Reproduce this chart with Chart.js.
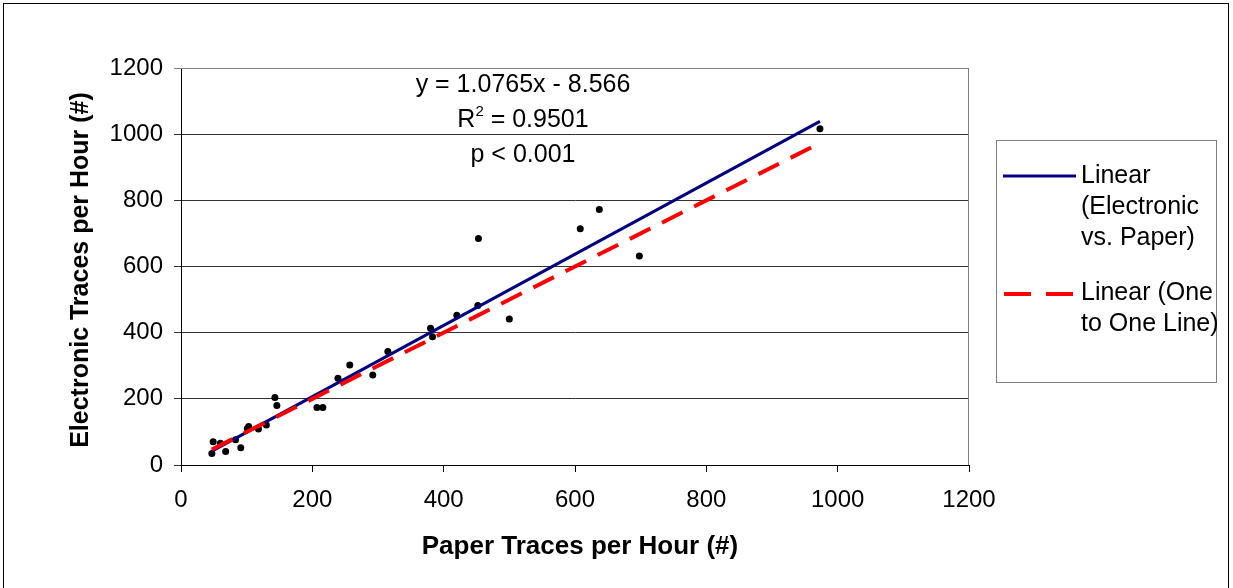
<!DOCTYPE html>
<html>
<head>
<meta charset="utf-8">
<script src="https://cdn.jsdelivr.net/npm/chart.js@4/dist/chart.umd.min.js"></script>
<style>
  html, body { margin: 0; padding: 0; background: #fff; }
  #wrap { width: 1233px; height: 588px; }
</style>
</head>
<body>
<div id="wrap"><canvas id="chart" width="1233" height="588"></canvas></div>
<script>
// values
const paperTraces = [47, 49, 60, 68, 83, 91, 101, 103, 118, 130, 143, 146, 207, 216, 239, 257, 292, 315,
  380, 383, 420, 452, 453, 500, 608, 637, 698, 973];
const electronicTraces = [35, 70, 66, 41, 76, 52, 110, 116, 109, 121, 204, 180, 174, 174, 262, 302, 272, 343,
  413, 388, 453, 482, 685, 441, 714, 772, 632, 1016];

// trend line as printed on the chart
const slope = 1.0765;
const intercept = -8.566;
const eqLines = ['y = 1.0765x - 8.566', 'R2 = 0.9501', 'p < 0.001'];

const axisTicks = [0, 200, 400, 600, 800, 1000, 1200];
const xTitle = 'Paper Traces per Hour (#)';
const yTitle = 'Electronic Traces per Hour (#)';

const FONT = '"Liberation Sans", Arial, sans-serif';

const xMin = Math.min(...paperTraces);
const xMax = Math.max(...paperTraces);
const fitLine = [xMin, xMax].map(x => ({ x: x, y: slope * x + intercept }));
const oneToOne = [xMin, xMax].map(x => ({ x: x, y: x }));
const points = paperTraces.map((x, i) => ({ x: x, y: electronicTraces[i] }));

const extras = {
  id: 'extras',
  beforeDatasetsDraw(chart) {
    const { ctx, chartArea: a } = chart;
    ctx.save();
    ctx.strokeStyle = '#808080';
    ctx.lineWidth = 1;
    ctx.beginPath();
    ctx.moveTo(a.left, a.top + 0.5);
    ctx.lineTo(a.right - 0.5, a.top + 0.5);
    ctx.lineTo(a.right - 0.5, a.bottom);
    ctx.stroke();
    ctx.restore();
  },
  afterDraw(chart) {
    const { ctx } = chart;
    ctx.save();
    // outer frame
    ctx.strokeStyle = '#000';
    ctx.lineWidth = 1;
    ctx.strokeRect(3.5, 3.5, 1225, 620);

    // axis titles
    ctx.fillStyle = '#000';
    ctx.textAlign = 'center';
    ctx.textBaseline = 'middle';
    ctx.font = 'bold 26px ' + FONT;
    ctx.fillText(xTitle, 580, 547);
    ctx.save();
    ctx.font = 'bold 25px ' + FONT;
    ctx.translate(81, 270);
    ctx.rotate(-Math.PI / 2);
    ctx.fillText(yTitle, 0, 0);
    ctx.restore();

    // equation block
    ctx.font = '25px ' + FONT;
    const cx = 523;
    ctx.fillText(eqLines[0], cx, 85);
    // R² with superscript
    const r = eqLines[1].slice(2);
    const wR = ctx.measureText('R').width;
    const wRest = ctx.measureText(r).width;
    ctx.font = '15px ' + FONT;
    const wSup = ctx.measureText('2').width;
    let x0 = cx - (wR + wSup + wRest) / 2;
    ctx.textAlign = 'left';
    ctx.font = '25px ' + FONT;
    ctx.fillText('R', x0, 120);
    ctx.font = '15px ' + FONT;
    ctx.fillText('2', x0 + wR, 112);
    ctx.font = '25px ' + FONT;
    ctx.fillText(r, x0 + wR + wSup, 120);
    ctx.textAlign = 'center';
    ctx.fillText(eqLines[2], cx, 155);

    // legend
    ctx.strokeStyle = '#808080';
    ctx.lineWidth = 1;
    ctx.strokeRect(996.5, 140.5, 220, 242);
    ctx.lineWidth = 3;
    ctx.strokeStyle = '#000080';
    ctx.beginPath();
    ctx.moveTo(1003, 176);
    ctx.lineTo(1076, 176);
    ctx.stroke();
    ctx.lineWidth = 4;
    ctx.strokeStyle = '#ff0000';
    ctx.setLineDash([27, 15]);
    ctx.beginPath();
    ctx.moveTo(1004, 294);
    ctx.lineTo(1076, 294);
    ctx.stroke();
    ctx.setLineDash([]);
    ctx.textAlign = 'left';
    ctx.font = '25px ' + FONT;
    ctx.fillText('Linear', 1081, 176);
    ctx.fillText('(Electronic', 1081, 207);
    ctx.fillText('vs. Paper)', 1081, 238);
    ctx.fillText('Linear (One', 1081, 293);
    ctx.fillText('to One Line)', 1081, 324);
    ctx.restore();
  }
};

new Chart(document.getElementById('chart'), {
  type: 'scatter',
  data: {
    datasets: [
      { label: 'Linear (One to One Line)', type: 'line', data: oneToOne, borderColor: '#ff0000', borderWidth: 4,
        borderDash: [23, 13], pointRadius: 0, fill: false, order: 0 },
      { label: 'Linear (Electronic vs. Paper)', type: 'line', data: fitLine, borderColor: '#000080', borderWidth: 3,
        pointRadius: 0, fill: false, order: 1 },
      { label: 'Electronic vs. Paper', data: points, pointRadius: 3.5, pointBackgroundColor: '#000',
        pointBorderColor: '#000', pointBorderWidth: 0, order: 2 }
    ]
  },
  options: {
    responsive: false,
    animation: false,
    layout: { padding: { left: 0, top: 68, right: 264, bottom: 0 } },
    plugins: { legend: { display: false }, tooltip: { enabled: false } },
    scales: {
      x: {
        type: 'linear', min: 0, max: 1200,
        afterBuildTicks: s => { s.ticks = axisTicks.map(v => ({ value: v })); },
        afterFit: s => { s.height = 123; },
        grid: { drawOnChartArea: false, drawTicks: true, tickLength: 7, color: '#000' },
        border: { display: true, color: '#000', width: 1 },
        ticks: { color: '#000', padding: 14, font: { family: FONT, size: 24 }, callback: v => String(v) }
      },
      y: {
        type: 'linear', min: 0, max: 1200,
        afterBuildTicks: s => { s.ticks = axisTicks.map(v => ({ value: v })); },
        afterFit: s => { s.width = 181; },
        grid: { drawTicks: true, tickLength: 7, color: c => c.tick && c.tick.value === 1200 ? '#808080' : '#333' },
        border: { display: true, color: '#000', width: 1 },
        ticks: { color: '#000', padding: 11, font: { family: FONT, size: 24 }, callback: v => String(v) }
      }
    }
  },
  plugins: [extras]
});
</script>
</body>
</html>
